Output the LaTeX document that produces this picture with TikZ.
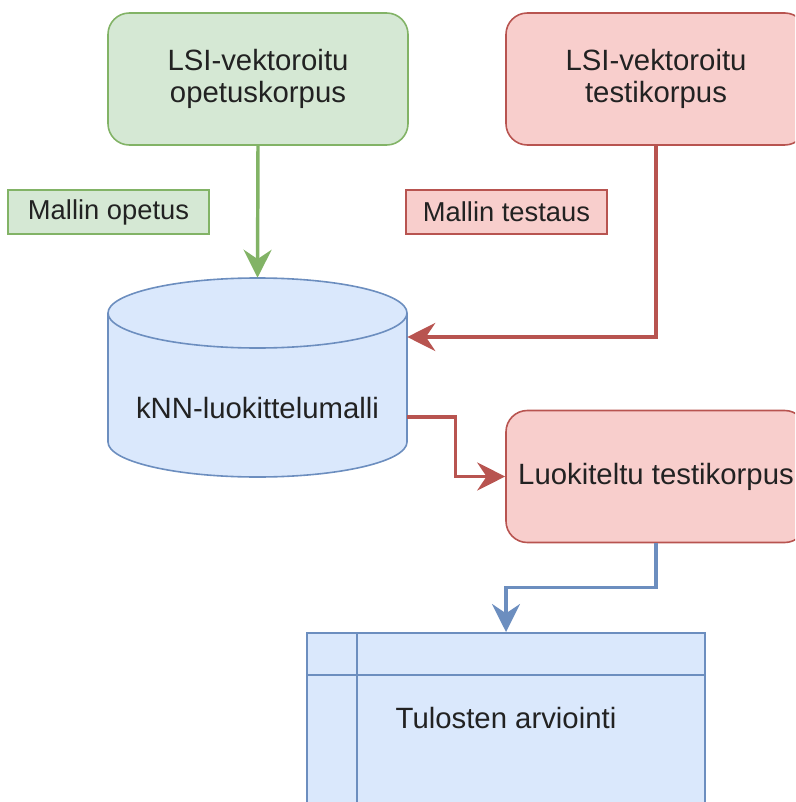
\documentclass[tikz,border=0pt]{standalone}
\usepackage{fontspec}
\setmainfont{Liberation Sans}
\usetikzlibrary{arrows.meta,calc}

\definecolor{gfill}{HTML}{D5E8D4}
\definecolor{gline}{HTML}{82B366}
\definecolor{rfill}{HTML}{F8CECC}
\definecolor{rline}{HTML}{B85450}
\definecolor{bfill}{HTML}{DAE8FC}
\definecolor{bline}{HTML}{6C8EBF}
\definecolor{txt}{HTML}{222222}

\tikzset{
  card/.style={rectangle, rounded corners=16pt, line width=1.2pt,
    minimum width=225pt, minimum height=99pt, align=center,
    text=txt, font=\fontsize{22}{24}\selectfont},
  greencard/.style={card, draw=gline, fill=gfill},
  redcard/.style={card, draw=rline, fill=rfill},
  tag/.style={rectangle, line width=1.1pt, minimum width=150.75pt,
    minimum height=33pt, text=txt, font=\fontsize{20.5}{22}\selectfont},
  flow/.style={line width=2.6pt,
    -{Stealth[length=21pt, width=21pt, inset=7pt]}},
}

\begin{document}
\begin{tikzpicture}[x=0.75pt, y=-0.75pt]
  \useasboundingbox (0,0) rectangle (795,802);
  \clip (0,0) rectangle (795,802);

  % source corpora
  \node[greencard] (train) at (258,79) {LSI-vektoroitu\\opetuskorpus};
  \node[redcard]   (test)  at (656,79) {LSI-vektoroitu\\testikorpus};

  % phase tags
  \node[tag, draw=gline, fill=gfill] (tagtrain) at (108.5,212) {Mallin opetus};
  \node[tag, draw=rline, fill=rfill] (tagtest)  at (506.5,212) {Mallin testaus};

  % kNN model drawn as a cylinder
  \path[fill=bfill, draw=bline, line width=1.2pt]
    (108,313) -- (108,442)
    arc[start angle=180, end angle=360, x radius=112.125pt, y radius=26.25pt]
    -- (407,313)
    arc[start angle=0, end angle=180, x radius=112.125pt, y radius=26.25pt]
    -- cycle;
  \draw[bline, line width=1.2pt] (108,313)
    arc[start angle=180, end angle=360, x radius=112.125pt, y radius=26.25pt];
  \node[rectangle, inner sep=0pt, minimum width=224.25pt, minimum height=149.25pt,
        label={[text=txt, font=\fontsize{22}{24}\selectfont, yshift=-22.9pt]center:kNN-luokittelumalli}]
    (model) at (257.5,377.5) {};

  % classified test corpus
  \node[redcard] (classified) at (656,476.5) {Luokiteltu testikorpus};

  % evaluation table
  \node[rectangle, draw=bline, fill=bfill, line width=1.2pt, inner sep=0pt,
        minimum width=298.5pt, minimum height=180pt, anchor=north]
    (eval) at (506,632) {};
  \draw[bline, line width=1.2pt] (357,632) -- (357,900);
  \draw[bline, line width=1.2pt] (eval.north west |- 0,675) -- (eval.north east |- 0,675);
  \node[text=txt, font=\fontsize{22}{24}\selectfont] (evaltext) at (506,718) {Tulosten arviointi};

  % connectors
  \draw[flow, gline] (train.south) -- (model.north);
  \draw[flow, rline] (test.south) |- ($(model.east)+(0,-40.5)$);
  \draw[flow, rline] ($(model.east)+(0,39.5)$) -- ++(48,0) |- (classified.west);
  \draw[flow, bline] (classified.south) -- ++(0,44) -| (eval.north);
\end{tikzpicture}
\end{document}
